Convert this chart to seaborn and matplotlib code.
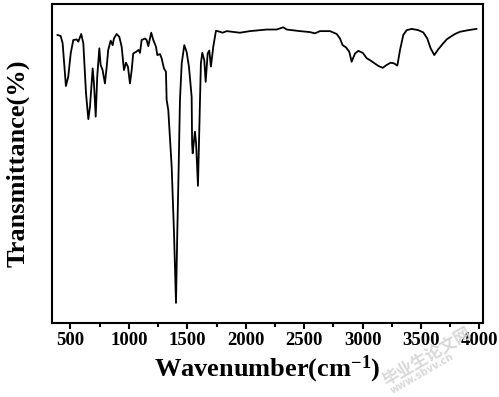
import pandas as pd
import seaborn as sns
import matplotlib
matplotlib.use("Agg")
import matplotlib.pyplot as plt

# FTIR spectrum
wavenumber = [
    387, 416, 433, 461, 481, 502, 524, 553, 567, 592,
    610, 633, 653, 667, 690, 701, 716, 729, 747, 758,
    775, 795, 810, 823, 844, 861, 872, 895, 918, 938,
    958, 975, 992, 1009, 1024, 1037, 1061, 1083, 1095, 1109,
    1138, 1152, 1166, 1191, 1209, 1232, 1243, 1266, 1280, 1300,
    1317, 1323, 1337, 1366, 1386, 1403, 1414, 1426, 1437, 1452,
    1474, 1494, 1514, 1537, 1541, 1546, 1565, 1575, 1591, 1608,
    1616, 1628, 1645, 1657, 1674, 1688, 1702, 1722, 1745, 1779,
    1802, 1837, 1950, 2036, 2179, 2264, 2321, 2350, 2464, 2549,
    2592, 2635, 2721, 2778, 2806, 2829, 2858, 2886, 2906, 2935,
    2963, 3001, 3035, 3063, 3091, 3134, 3172, 3206, 3240, 3268,
    3297, 3320, 3348, 3377, 3420, 3476, 3519, 3553, 3582, 3613,
    3647, 3690, 3719, 3747, 3790, 3833, 3904, 3976,
]
transmittance = [
    90.3, 90.0, 87.7, 74.3, 77.2, 84.5, 88.7, 88.9, 88.2, 90.6,
    87.7, 72.0, 63.9, 67.8, 79.8, 75.1, 64.7, 77.2, 86.1, 80.9,
    79.3, 75.1, 80.3, 85.6, 88.5, 87.1, 89.2, 90.6, 89.7, 86.6,
    79.3, 81.6, 80.3, 75.1, 79.3, 84.5, 85.0, 85.6, 84.7, 88.7,
    89.2, 88.7, 86.8, 91.0, 88.7, 86.6, 84.0, 84.3, 83.0, 79.8,
    78.8, 69.9, 66.8, 49.0, 28.2, 6.3, 28.1, 49.0, 69.9, 81.4,
    87.1, 85.0, 80.3, 70.9, 56.0, 53.2, 60.0, 56.4, 43.0, 70.0,
    81.4, 84.7, 82.4, 75.6, 84.5, 85.4, 80.4, 86.6, 91.6, 91.3,
    91.0, 91.5, 91.0, 91.5, 92.0, 92.0, 92.7, 92.0, 91.5, 91.2,
    90.8, 91.5, 91.5, 90.6, 89.2, 87.1, 86.4, 85.0, 81.9, 84.5,
    85.3, 84.7, 83.0, 82.4, 81.7, 80.6, 80.0, 80.9, 81.6, 81.4,
    80.7, 85.6, 90.3, 91.8, 92.2, 91.8, 91.1, 89.2, 86.1, 84.0,
    85.8, 87.7, 88.9, 89.6, 90.6, 91.3, 91.8, 92.2,
]
major_ticks = [500, 1000, 1500, 2000, 2500, 3000, 3500, 4000]
minor_ticks = [750, 1250, 1750, 2250, 2750, 3250, 3750]

df = pd.DataFrame({"Wavenumber": wavenumber, "Transmittance": transmittance})

sns.set_style("ticks")
plt.rcParams["font.family"] = ["Liberation Serif", "DejaVu Serif"]
plt.rcParams["font.weight"] = "bold"
plt.rcParams["mathtext.fontset"] = "custom"
plt.rcParams["mathtext.rm"] = "Liberation Serif:bold"
plt.rcParams["mathtext.default"] = "rm"
plt.rcParams["text.color"] = "black"
plt.rcParams["axes.labelcolor"] = "black"
plt.rcParams["axes.edgecolor"] = "black"
plt.rcParams["xtick.color"] = "black"

fig = plt.figure(figsize=(4.99, 3.97), dpi=100)
ax = fig.add_axes([0.1042, 0.1864, 0.8628, 0.8035])

sns.lineplot(data=df, x="Wavenumber", y="Transmittance", color="black",
             linewidth=1.3, sort=False, ax=ax)

ax.set_xlim(342, 4026)
ax.set_ylim(0, 100)
ax.set_xticks(major_ticks)
ax.set_xticks(minor_ticks, minor=True)
ax.set_yticks([])
ax.tick_params(axis="x", which="major", length=4.5, width=1.5,
               direction="out", labelsize=13.5, pad=2)
ax.tick_params(axis="x", which="minor", length=3, width=1.5, direction="out")
for lab in ax.get_xticklabels():
    lab.set_fontweight("bold")
for s in ax.spines.values():
    s.set_linewidth(1.5)
    s.set_visible(True)

ax.set_xlabel("Wavenumber(cm$^{-1}$)", fontsize=19, fontweight="bold", labelpad=3)
ax.set_ylabel("Transmittance(%)", fontsize=19, fontweight="bold", labelpad=16)

# faint watermark
fig.text(0.855, 0.10, "毕业生论文网", rotation=30, fontsize=12, color="#d8d8d8",
         family=["Noto Sans CJK SC", "DejaVu Sans"], ha="center", va="center")
fig.text(0.845, 0.06, "www.sbvv.cn", rotation=30, fontsize=7, color="#d8d8d8",
         family=["DejaVu Sans"], ha="center", va="center")

fig.savefig("out.png", dpi=100)
